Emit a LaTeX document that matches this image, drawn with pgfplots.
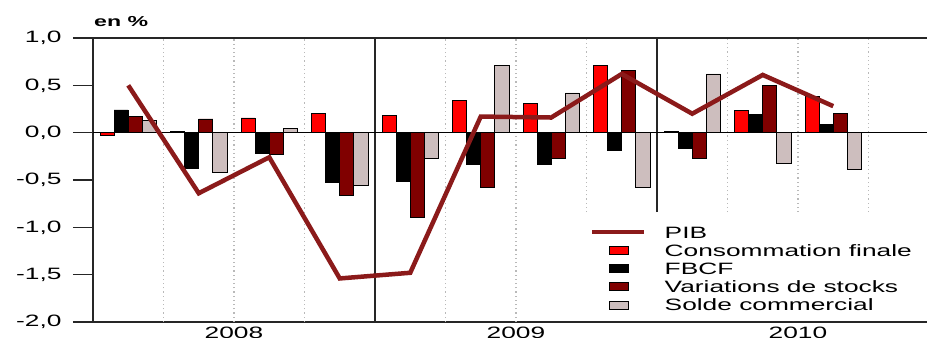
\documentclass[border=0pt]{standalone}
\usepackage{fontspec}
\usepackage{pgfplots}
\usepackage{pgfplotstable}
\pgfplotsset{compat=1.18}
\newfontfamily\wide[FakeStretch=1.6]{Liberation Sans}
\definecolor{cconso}{RGB}{255,0,0}
\definecolor{cvar}{RGB}{128,0,0}
\definecolor{csolde}{RGB}{205,190,190}
\definecolor{cpib}{RGB}{139,26,26}
\definecolor{cgrid}{RGB}{185,185,185}
\pgfplotsset{barleg/.style={legend image code/.code={\draw[##1] (16.5bp,-4bp) rectangle (35.5bp,4bp);}},
  pibleg/.style={legend image code/.code={\draw[##1] (0bp,0bp) -- (52bp,0bp);}}}
\tikzset{sep/.style={cgrid, dash pattern=on 1.2bp off 3bp, line width=1.3bp}}
\pgfplotstableread{
q conso fbcf var solde pib
0 -0.025 0.24 0.17 0.13 0.50
1 0.01 -0.38 0.145 -0.42 -0.64
2 0.155 -0.22 -0.23 0.04 -0.26
3 0.20 -0.53 -0.66 -0.56 -1.54
4 0.18 -0.51 -0.90 -0.27 -1.48
5 0.345 -0.33 -0.58 0.71 0.17
6 0.31 -0.33 -0.27 0.42 0.16
7 0.71 -0.19 0.66 -0.58 0.62
8 0.01 -0.165 -0.27 0.62 0.20
9 0.235 0.19 0.50 -0.32 0.61
10 0.38 0.09 0.20 -0.39 0.28
}\data
\begin{document}
\begin{tikzpicture}
\path[use as bounding box] (0,0) rectangle (927bp,338bp);
\begin{axis}[
  at={(93bp,16bp)}, anchor=south west,
  scale only axis, width=834bp, height=284bp,
  xmin=-0.5, xmax=11.33, ymin=-2, ymax=1,
  clip=false,
  axis x line=box, axis y line=left,
  axis line style={-, line width=1.6bp, black!85},
  ytick={-2,-1.5,-1,-0.5,0,0.5,1},
  tick align=outside, major tick length=20bp,
  tick style={line width=1.6bp, black!85},
  xtick={1.5,5.5,9.5}, xticklabels={2008,2009,2010},
  x tick style={draw=none},
  yticklabel style={font=\wide\fontsize{16.5}{18}\selectfont, xshift=-8bp},
  xticklabel style={font=\wide\fontsize{16.5}{18}\selectfont, yshift=18bp},
  /pgf/number format/.cd, use comma, fixed, fixed zerofill, precision=1, assume math mode=true,
  /pgfplots/.cd,
  legend style={at={(axis cs:6.55,-0.9855)}, anchor=north west, draw=none, fill=none,
    font=\wide\fontsize{16.5}{18}\selectfont, row sep=6.2bp, column sep=18bp,
    inner sep=0pt, nodes={inner sep=0pt, text height=12bp, text depth=0bp}},
  legend cell align=left,
]
% vertical separators
\draw[sep] (axis cs:0.5,-2) -- (axis cs:0.5,1);
\draw[sep] (axis cs:1.5,-2) -- (axis cs:1.5,1);
\draw[sep] (axis cs:2.5,-2) -- (axis cs:2.5,1);
\draw[sep] (axis cs:4.5,-2) -- (axis cs:4.5,1);
\draw[sep] (axis cs:5.5,-2) -- (axis cs:5.5,1);
\draw[sep] (axis cs:6.5,-0.84) -- (axis cs:6.5,1);
\draw[sep] (axis cs:8.5,-0.84) -- (axis cs:8.5,1);
\draw[sep] (axis cs:9.5,-0.84) -- (axis cs:9.5,1);
\draw[sep] (axis cs:10.5,-0.84) -- (axis cs:10.5,1);
\draw[black!85, line width=1.6bp] (axis cs:3.5,-2) -- (axis cs:3.5,1);
\draw[black!85, line width=1.6bp] (axis cs:7.5,-0.84) -- (axis cs:7.5,1);
\draw[black, line width=0.9bp] (axis cs:-0.5,0) -- (axis cs:11.33,0);

\addlegendimage{cpib, line width=4.5bp, pibleg}
\addlegendentry{PIB}
\addplot[ybar, bar width=0.2, bar shift=-0.3, fill=cconso, draw=black, line width=0.8bp, barleg] table[x=q, y=conso] {\data};
\addlegendentry{Consommation finale}
\addplot[ybar, bar width=0.2, bar shift=-0.1, fill=black, draw=black, line width=0.8bp, barleg] table[x=q, y=fbcf] {\data};
\addlegendentry{FBCF}
\addplot[ybar, bar width=0.2, bar shift=0.1, fill=cvar, draw=black, line width=0.8bp, barleg] table[x=q, y=var] {\data};
\addlegendentry{Variations de stocks}
\addplot[ybar, bar width=0.2, bar shift=0.3, fill=csolde, draw=black, line width=0.8bp, barleg] table[x=q, y=solde] {\data};
\addlegendentry{Solde commercial}
\addplot[cpib, line width=4.5bp, forget plot] table[x=q, y=pib] {\data};
\end{axis}
\node[anchor=base west, font=\wide\bfseries\fontsize{14.5}{16}\selectfont, inner sep=0pt] at (94bp,311bp) {en \%};
\end{tikzpicture}
\end{document}
